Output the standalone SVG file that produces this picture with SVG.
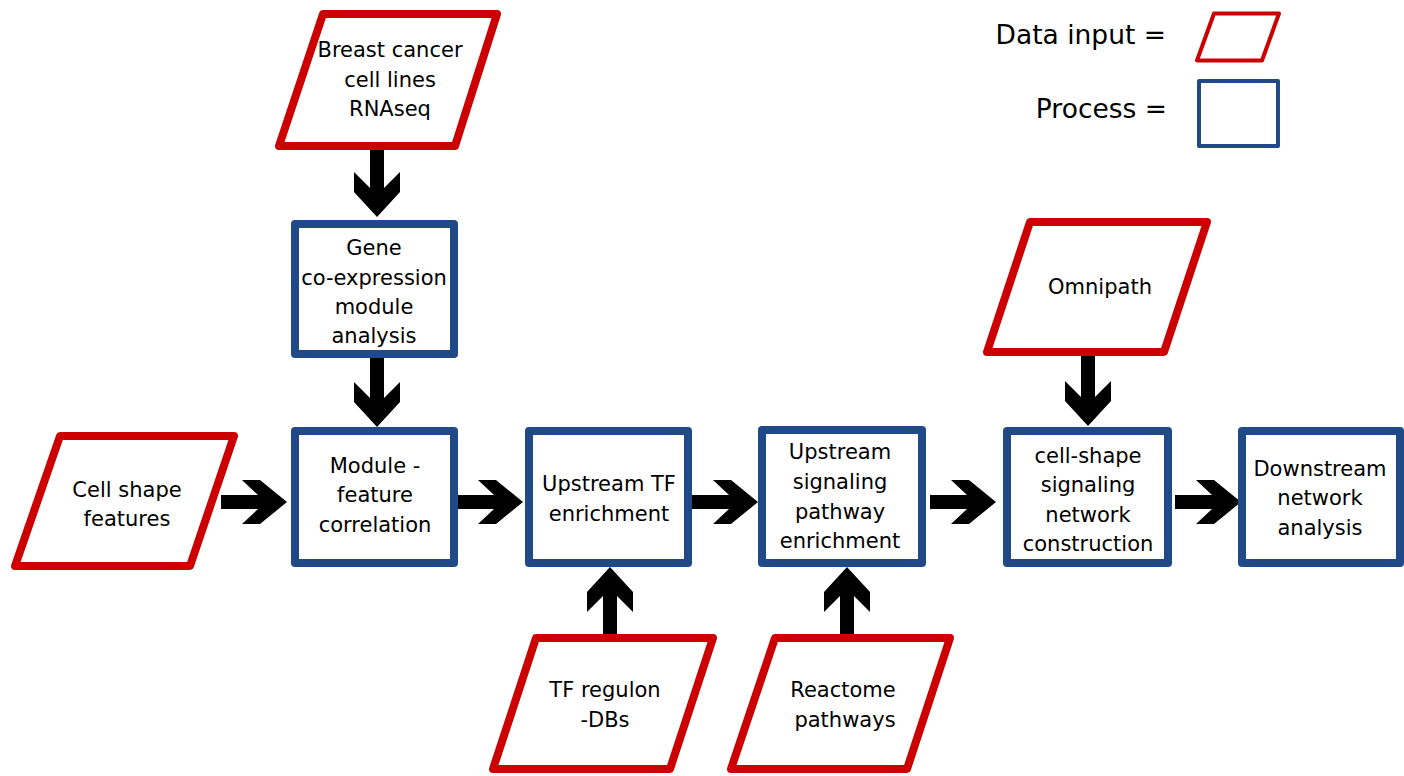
<svg xmlns="http://www.w3.org/2000/svg" width="1404" height="776" viewBox="0 0 1404 776">
<style>
.data{fill:#fff;stroke:#cc0000;stroke-width:8;stroke-linejoin:round}
.proc{fill:#fff;stroke:#204a87;stroke-width:8;stroke-linejoin:round}
.arr{fill:#000;stroke:none}
text{font-family:"DejaVu Sans","Liberation Sans",sans-serif;font-size:21px;fill:#000;text-anchor:middle}
.leg{font-size:26.5px;text-anchor:end}
</style>
<rect width="1404" height="776" fill="#fff"/>
<g id="legend">
<text class="leg" x="1166" y="44">Data input =</text>
<text class="leg" x="1167" y="118">Process =</text>
<polygon points="1214,13.5 1279,13.5 1262,60.5 1197,60.5" fill="#fff" stroke="#cc0000" stroke-width="4" stroke-linejoin="round"/>
<rect x="1199" y="81" width="79" height="65" fill="#fff" stroke="#204a87" stroke-width="4" stroke-linejoin="round"/>
</g>
<g id="connectors">
<polygon class="arr" points="370,150 370,188 354,172 354,192 377,217 400,192 400,172 384,188 384,150"/>
<polygon class="arr" points="370,358 370,398 354,382 354,402 377,427 400,402 400,382 384,398 384,358"/>
<polygon class="arr" points="1081,356 1081,397 1065,381 1065,401 1088,426 1111,401 1111,381 1095,397 1095,356"/>
<polygon class="arr" points="603,634 603,596 587,612 587,592 610,567 633,592 633,612 617,596 617,634"/>
<polygon class="arr" points="840,634 840,596 824,612 824,592 847,567 870,592 870,612 854,596 854,634"/>
<polygon class="arr" points="221,495 258,495 242,480 260,480 287,502 260,524 242,524 258,509 221,509"/>
<polygon class="arr" points="458,495 494,495 478,480 496,480 523,502 496,524 478,524 494,509 458,509"/>
<polygon class="arr" points="692,495 729,495 713,480 731,480 758,502 731,524 713,524 729,509 692,509"/>
<polygon class="arr" points="930,495 967,495 951,480 969,480 996,502 969,524 951,524 967,509 930,509"/>
<polygon class="arr" points="1175,495 1212,495 1196,480 1214,480 1241,502 1214,524 1196,524 1212,509 1175,509"/>
</g>
<g id="breast">
<polygon class="data" points="323,14 497,14 455,146 279,146"/>
<text x="390" y="57">Breast cancer</text>
<text x="390" y="87">cell lines</text>
<text x="390" y="116">RNAseq</text>
</g>
<g id="gene">
<rect class="proc" x="295" y="224" width="159" height="130"/>
<text x="374" y="255">Gene</text>
<text x="374" y="285">co-expression</text>
<text x="374" y="314">module</text>
<text x="374" y="343">analysis</text>
</g>
<g id="cellshape">
<polygon class="data" points="60,436 234,436 190,566 15,566"/>
<text x="127" y="497">Cell shape</text>
<text x="127" y="526">features</text>
</g>
<g id="module">
<rect class="proc" x="295" y="431" width="159" height="132"/>
<text x="375" y="473">Module -</text>
<text x="375" y="502">feature</text>
<text x="375" y="532">correlation</text>
</g>
<g id="tfenrich">
<rect class="proc" x="529" y="431" width="159" height="132"/>
<text x="609" y="491">Upstream TF</text>
<text x="609" y="521">enrichment</text>
</g>
<g id="sigenrich">
<rect class="proc" x="762" y="430" width="160" height="133"/>
<text x="840" y="459">Upstream</text>
<text x="840" y="489">signaling</text>
<text x="840" y="519">pathway</text>
<text x="840" y="548">enrichment</text>
</g>
<g id="network">
<rect class="proc" x="1007" y="431" width="161" height="132"/>
<text x="1088" y="463">cell-shape</text>
<text x="1088" y="492">signaling</text>
<text x="1088" y="522">network</text>
<text x="1088" y="551">construction</text>
</g>
<g id="downstream">
<rect class="proc" x="1242" y="431" width="158" height="132"/>
<text x="1320" y="476">Downstream</text>
<text x="1320" y="505">network</text>
<text x="1320" y="535">analysis</text>
</g>
<g id="omnipath">
<polygon class="data" points="1030,222 1207,222 1164,352 987,352"/>
<text x="1100" y="294">Omnipath</text>
</g>
<g id="tfregulon">
<polygon class="data" points="536,638 713,638 670,769 493,769"/>
<text x="605" y="697">TF regulon</text>
<text x="605" y="727">-DBs</text>
</g>
<g id="reactome">
<polygon class="data" points="775,638 950,638 907,769 731,769"/>
<text x="843" y="697">Reactome</text>
<text x="845" y="727">pathways</text>
</g>
</svg>
